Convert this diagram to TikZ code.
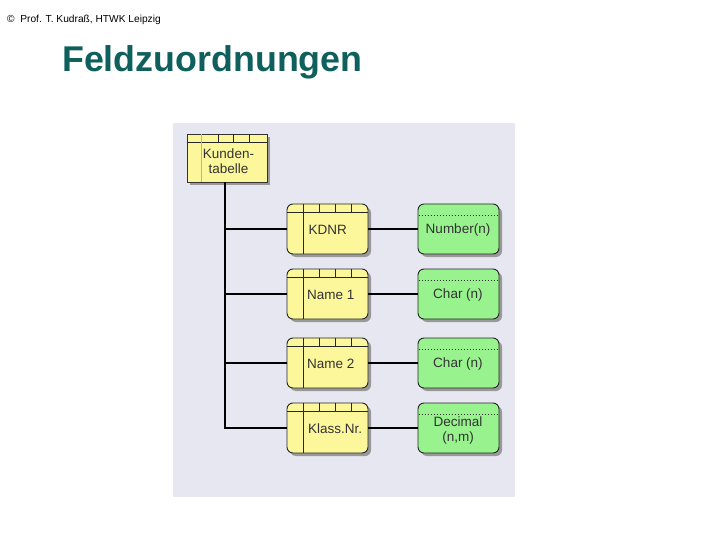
\documentclass[tikz,border=0pt]{standalone}
\usepackage{fontspec}
\setmainfont{Liberation Sans}
\usetikzlibrary{calc,shadows}
\definecolor{panel}{HTML}{E6E7F1}
\definecolor{ybox}{HTML}{FCF79B}
\definecolor{gbox}{HTML}{98F28E}
\definecolor{titlec}{HTML}{0F605C}
\begin{document}
\begin{tikzpicture}[x=1pt,y=-1pt,
  boxshadow/.style={drop shadow={shadow xshift=3pt,shadow yshift=-3pt,fill=black!40,opacity=1}},
  tablebox/.style={draw=black!80, line width=0.8pt, fill=ybox, minimum width=80pt, minimum height=48pt, inner sep=0pt, boxshadow},
  fieldbox/.style={draw=black!85, line width=0.9pt, fill=ybox, rounded corners=6pt, minimum width=81pt, minimum height=50pt, inner sep=0pt, boxshadow},
  typebox/.style={draw=black!85, line width=0.9pt, fill=gbox, rounded corners=6pt, minimum width=81pt, minimum height=50pt, inner sep=0pt, boxshadow},
  lbl/.style={font=\fontsize{13.5}{15}\selectfont, text=black!80, align=center, inner sep=0pt},
  link/.style={line width=1.6pt, black},
  thinline/.style={line width=0.6pt, black!85}]
\useasboundingbox (0,0) rectangle (720,540);
\fill[panel] (173,123) rectangle (515,497);
\node[anchor=west, font=\fontsize{10.2}{12}\selectfont, inner sep=0pt] (hdr) at (7,20) {©\ \ Prof. T. Kudraß, HTWK Leipzig};
\node[anchor=base west, font=\bfseries\fontsize{35.8}{40}\selectfont, text=titlec, inner sep=0pt] (title) at (62,72) {Feldzuordnungen};
% table box
\node[tablebox] (kt) at (227,158) {};
\draw[thinline] ($(kt.north west)+(0,9)$) -- ($(kt.north east)+(0,9)$);
\draw[line width=0.4pt, black!30] ($(kt.north west)+(15,0)$) -- ($(kt.south west)+(15,0)$);
\foreach \dx in {32,47,63} \draw[thinline] ($(kt.north west)+(\dx,0)$) -- ($(kt.north west)+(\dx,9)$);
\node[lbl] (ktl) at (228.5,161) {Kunden-\\tabelle};
% field boxes
\node[fieldbox] (f1) at (327.5,229) {};
\node[fieldbox] (f2) at (327.5,294) {};
\node[fieldbox] (f3) at (327.5,363) {};
\node[fieldbox] (f4) at (327.5,428) {};
\node[typebox] (t1) at (458.5,229) {};
\node[typebox] (t2) at (458.5,294) {};
\node[typebox] (t3) at (458.5,363) {};
\node[typebox] (t4) at (458.5,428) {};
\foreach \f in {f1,f2,f3,f4} {
  \draw[thinline] ($(\f.north west)+(0,9)$) -- ($(\f.north east)+(0,9)$);
  \draw[line width=0.9pt, black!85] ($(\f.north west)+(17,0)$) -- ($(\f.south west)+(17,0)$);
  \foreach \dx in {33,49,65} \draw[thinline] ($(\f.north west)+(\dx,0)$) -- ($(\f.north west)+(\dx,9)$);
}
\foreach \t in {t1,t2,t3,t4}
  \draw[line width=0.6pt, black!80, dash pattern=on 1.5pt off 1.5pt] ($(\t.north west)+(1,12)$) -- ($(\t.north east)+(-1,12)$);
% labels
\node[lbl, anchor=west] (l1) at (308.5,229.5) {KDNR};
\node[lbl, anchor=west] (l2) at (307,294.5) {Name 1};
\node[lbl, anchor=west] (l3) at (307,363.5) {Name 2};
\node[lbl, anchor=west] (l4) at (308,428.5) {Klass.Nr.};
\node[lbl] (m1) at (458,230) {Number(n)};
\node[lbl] (m2) at (458,295) {Char (n)};
\node[lbl] (m3) at (458,364) {Char (n)};
\node[lbl] (m4) at (458,431) {Decimal\\(n,m)};
% connectors
\coordinate (trunk) at ($(kt.south)+(-2,0)$);
\draw[link] (trunk) -- (trunk |- f4.west) -- (f4.west);
\foreach \f in {f1,f2,f3} \draw[link] (trunk |- \f.west) -- (\f.west);
\foreach \i in {1,2,3,4} \draw[link] (f\i.east) -- (t\i.west);
\end{tikzpicture}
\end{document}
